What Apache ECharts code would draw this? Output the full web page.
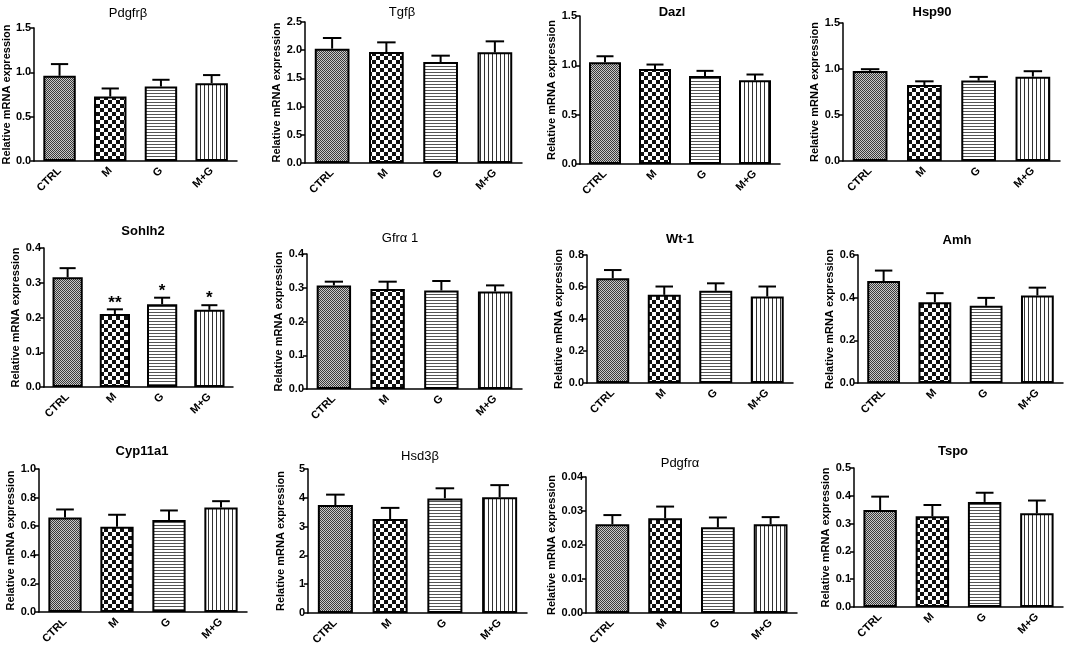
<!DOCTYPE html>
<html lang="en">
<head>
    <meta charset="UTF-8">
    <title>Relative mRNA expression</title>
    <script src="https://cdn.jsdelivr.net/npm/echarts@6/dist/echarts.min.js"></script>
    <style>
        html, body { margin: 0; padding: 0; background: #fff; }
        #chart { width: 1065px; height: 650px; }
    </style>
</head>
<body>
<div id="chart"></div>
<script>
    // groups and genes
    const groups = ['CTRL', 'M', 'G', 'M+G'];
    const genes = ['Pdgfrβ', 'Tgfβ', 'Dazl', 'Hsp90', 'Sohlh2', 'Gfrα 1', 'Wt-1', 'Amh', 'Cyp11a1', 'Hsd3β', 'Pdgfrα', 'Tspo'];

    // mean values, one array per gene (CTRL, M, G, M+G)
    const pdgfrb = [0.961, 0.727, 0.840, 0.878];
    const tgfb = [2.027, 1.968, 1.791, 1.962];
    const dazl = [1.031, 0.964, 0.893, 0.849];
    const hsp90 = [0.979, 0.826, 0.874, 0.917];
    const sohlh2 = [0.316, 0.210, 0.238, 0.222];
    const gfra1 = [0.307, 0.296, 0.292, 0.289];
    const wt1 = [0.655, 0.551, 0.576, 0.540];
    const amh = [0.478, 0.379, 0.362, 0.410];
    const cyp11a1 = [0.661, 0.596, 0.643, 0.731];
    const hsd3b = [3.75, 3.26, 3.98, 4.02];
    const pdgfra = [0.0261, 0.0279, 0.0252, 0.0261];
    const tspo = [0.349, 0.326, 0.378, 0.337];

    // upper error (SEM)
    const pdgfrbErr = [0.132, 0.091, 0.076, 0.091];
    const tgfbErr = [0.189, 0.171, 0.112, 0.195];
    const dazlErr = [0.061, 0.044, 0.051, 0.058];
    const hsp90Err = [0.019, 0.040, 0.040, 0.059];
    const sohlh2Err = [0.026, 0.0135, 0.019, 0.0134];
    const gfra1Err = [0.011, 0.022, 0.028, 0.018];
    const wt1Err = [0.051, 0.052, 0.047, 0.063];
    const amhErr = [0.049, 0.042, 0.037, 0.037];
    const cyp11a1Err = [0.056, 0.084, 0.067, 0.044];
    const hsd3bErr = [0.36, 0.39, 0.35, 0.42];
    const pdgfraErr = [0.0027, 0.0034, 0.0029, 0.0021];
    const tspoErr = [0.048, 0.041, 0.033, 0.046];

    // significance marks (only Sohlh2)
    const sohlh2Stars = ['', '**', '*', '*'];

    // y axis: max, step, decimals
    const yMax = [1.5, 2.5, 1.5, 1.5, 0.4, 0.4, 0.8, 0.6, 1.0, 5, 0.04, 0.5];
    const yStep = [0.5, 0.5, 0.5, 0.5, 0.1, 0.1, 0.2, 0.2, 0.2, 1, 0.01, 0.1];
    const yDecimals = [1, 1, 1, 1, 1, 1, 1, 1, 1, 0, 2, 1];

    const means = [pdgfrb, tgfb, dazl, hsp90, sohlh2, gfra1, wt1, amh, cyp11a1, hsd3b, pdgfra, tspo];
    const errs = [pdgfrbErr, tgfbErr, dazlErr, hsp90Err, sohlh2Err, gfra1Err, wt1Err, amhErr, cyp11a1Err, hsd3bErr, pdgfraErr, tspoErr];
    const stars = [null, null, null, null, sohlh2Stars, null, null, null, null, null, null, null];

    // panel layout: axis left, axis top, axis right, axis bottom; title centre x, y; bold title
    const boxes = [
        [33, 28, 237, 161], [305, 22, 522, 163], [580, 16, 780, 164], [843, 23, 1060, 161],
        [44, 248, 233, 387], [307, 254, 522, 389], [587, 255, 793, 383], [858, 255, 1063, 383],
        [39, 469, 247, 612], [308, 469, 527, 613], [586, 477, 797, 613], [854, 468, 1063, 607]
    ];
    const titlePos = [
        [123, 10], [397, 9], [667, 9], [927, 9],
        [138, 228], [395, 235], [675, 236], [952, 237],
        [137, 448], [415, 453], [675, 460], [948, 448]
    ];
    const titleBold = [false, false, true, true, true, false, true, true, true, false, false, true];

    // fill patterns
    function makePattern(kind) {
        const c = document.createElement('canvas');
        let ctx;
        if (kind === 'fine') {
            c.width = 2; c.height = 2;
            ctx = c.getContext('2d');
            ctx.fillStyle = '#c8c8c8'; ctx.fillRect(0, 0, 2, 2);
            ctx.fillStyle = '#3a3a3a'; ctx.fillRect(0, 0, 1, 1); ctx.fillRect(1, 1, 1, 1);
        } else if (kind === 'checker') {
            c.width = 8; c.height = 8;
            ctx = c.getContext('2d');
            ctx.fillStyle = '#fff'; ctx.fillRect(0, 0, 8, 8);
            ctx.fillStyle = '#111'; ctx.fillRect(0, 0, 4, 4); ctx.fillRect(4, 4, 4, 4);
        } else if (kind === 'hlines') {
            c.width = 4; c.height = 3;
            ctx = c.getContext('2d');
            ctx.fillStyle = '#fff'; ctx.fillRect(0, 0, 4, 3);
            ctx.fillStyle = '#555'; ctx.fillRect(0, 0, 4, 1);
        } else {
            c.width = 4; c.height = 4;
            ctx = c.getContext('2d');
            ctx.fillStyle = '#fff'; ctx.fillRect(0, 0, 4, 4);
            ctx.fillStyle = '#333'; ctx.fillRect(0, 0, 1, 4);
        }
        return { image: c, repeat: 'repeat' };
    }
    const fills = [makePattern('fine'), makePattern('checker'), makePattern('hlines'), makePattern('vlines')];

    const FONT = 'Liberation Sans, Arial, sans-serif';
    const grid = [], xAxis = [], yAxis = [], series = [], title = [];

    genes.forEach((gene, p) => {
        const b = boxes[p];
        grid.push({ left: b[0], top: b[1], width: b[2] - b[0], height: b[3] - b[1] });
        title.push({
            text: gene, left: titlePos[p][0], top: titlePos[p][1] - 8, textAlign: 'center',
            textStyle: { fontFamily: FONT, fontSize: 13, fontWeight: titleBold[p] ? 'bold' : 'normal', color: '#000' }
        });
        xAxis.push({
            type: 'category', gridIndex: p, data: groups,
            axisLine: { lineStyle: { color: '#000', width: 1.5 } },
            axisTick: { alignWithLabel: true, length: 4, lineStyle: { color: '#000', width: 1.5 } },
            axisLabel: { rotate: 45, margin: 8, color: '#000', fontFamily: FONT, fontSize: 11, fontWeight: 'bold' }
        });
        yAxis.push({
            type: 'value', gridIndex: p, min: 0, max: yMax[p], interval: yStep[p],
            name: 'Relative mRNA expression', nameLocation: 'middle', nameGap: 22,
            nameTextStyle: { fontFamily: FONT, fontSize: 11, fontWeight: 'bold', color: '#000' },
            splitLine: { show: false },
            axisLine: { show: true, lineStyle: { color: '#000', width: 1.5 } },
            axisTick: { show: true, length: 4, lineStyle: { color: '#000', width: 1.5 } },
            axisLabel: {
                margin: 3, color: '#000', fontFamily: FONT, fontSize: 11, fontWeight: 'bold',
                formatter: v => v.toFixed(yDecimals[p])
            }
        });
        series.push({
            type: 'bar', xAxisIndex: p, yAxisIndex: p, barWidth: '64%',
            data: means[p].map((v, i) => ({
                value: v,
                itemStyle: { color: fills[i], borderColor: '#000', borderWidth: 2 }
            })),
            silent: true
        });
        const marks = stars[p];
        series.push({
            type: 'custom', xAxisIndex: p, yAxisIndex: p, silent: true, z: 3,
            data: means[p].map((v, i) => [i, v, errs[p][i]]),
            encode: { x: 0, y: 1 },
            renderItem: function (params, api) {
                const i = api.value(0), m = api.value(1), e = api.value(2);
                const base = api.coord([i, m]);
                const top = api.coord([i, m + e]);
                const half = api.size([1, 0])[0] * 0.17;
                const children = [
                    { type: 'line', shape: { x1: base[0], y1: base[1], x2: top[0], y2: top[1] }, style: { stroke: '#000', lineWidth: 2 } },
                    { type: 'line', shape: { x1: top[0] - half, y1: top[1], x2: top[0] + half, y2: top[1] }, style: { stroke: '#000', lineWidth: 2 } }
                ];
                if (marks && marks[params.dataIndex]) {
                    children.push({
                        type: 'text',
                        style: {
                            text: marks[params.dataIndex], x: top[0], y: top[1] + 2,
                            textAlign: 'center', textVerticalAlign: 'bottom',
                            font: 'bold 17px ' + FONT, fill: '#000'
                        }
                    });
                }
                return { type: 'group', children: children };
            }
        });
    });

    const chart = echarts.init(document.getElementById('chart'));
    chart.setOption({
        backgroundColor: '#fff',
        animation: false,
        title, grid, xAxis, yAxis, series
    });
</script>
</body>
</html>
